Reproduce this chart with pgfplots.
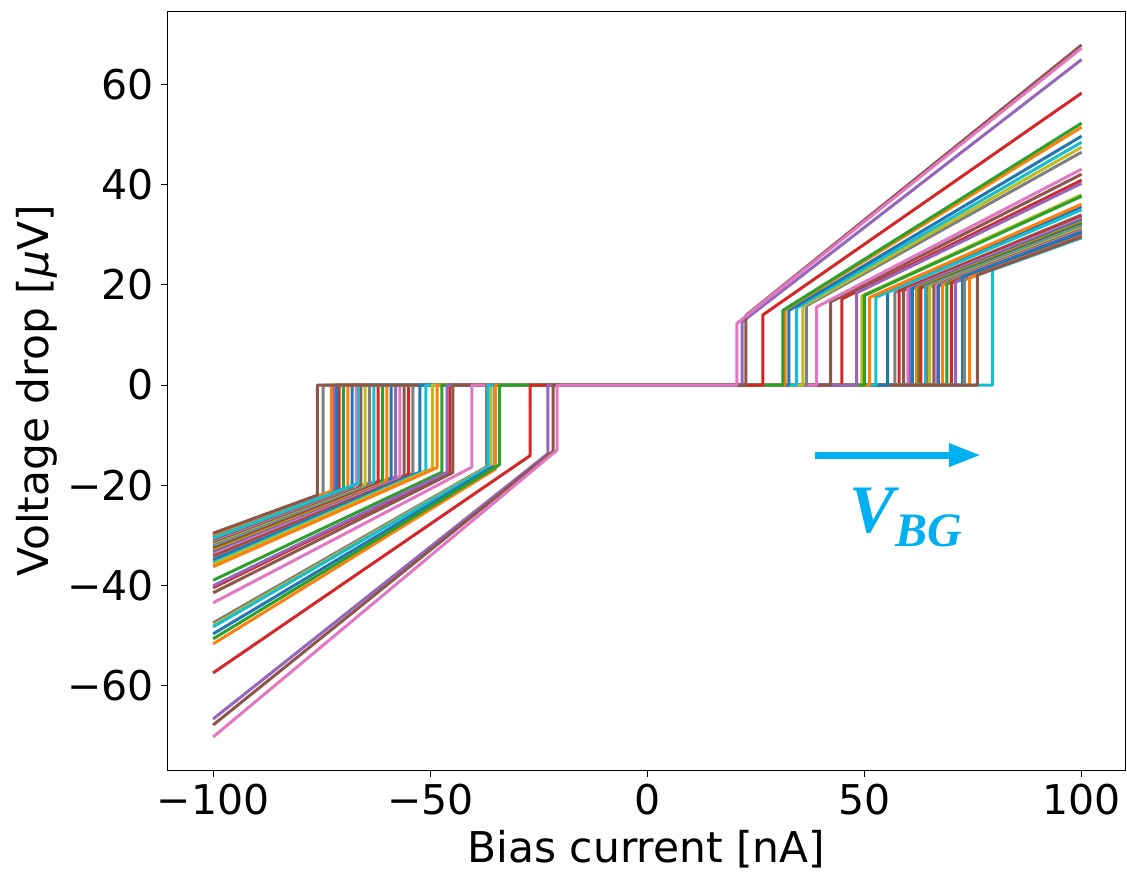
\documentclass[border=0pt]{standalone}
\usepackage{pgfplots}
\pgfplotsset{compat=1.18}
\usepackage{fontspec}
\setmainfont{DejaVu Sans}
\newfontfamily\vbgfont{Liberation Serif}
\definecolor{tb}{HTML}{1F77B4}
\definecolor{to}{HTML}{FF7F0E}
\definecolor{tg}{HTML}{2CA02C}
\definecolor{tr}{HTML}{D62728}
\definecolor{tp}{HTML}{9467BD}
\definecolor{tbr}{HTML}{8C564B}
\definecolor{tpk}{HTML}{E377C2}
\definecolor{tgy}{HTML}{7F7F7F}
\definecolor{tol}{HTML}{BCBD22}
\definecolor{tc}{HTML}{17BECF}
\definecolor{vbg}{HTML}{00B0F0}
\begin{document}
\begin{tikzpicture}
\begin{axis}[
  scale only axis, width=478.5pt, height=379pt,
  xmin=-110.4, xmax=110.0, ymin=-76.9, ymax=74.5,
  xtick={-100,-50,0,50,100},
  xticklabels={−100,−50,0,50,100},
  ytick={-60,-40,-20,0,20,40,60},
  yticklabels={−60,−40,−20,0,20,40,60},
  tick align=outside, major tick length=3.5pt,
  tick style={black, line width=0.5pt},
  axis line style={line width=0.5pt},
  xtick pos=bottom, ytick pos=left,
  ticklabel style={font=\fontsize{20.5}{24}\selectfont},
  label style={font=\fontsize{21.2}{25}\selectfont},
  xlabel={Bias current [nA]},
  ylabel={Voltage drop [{\itshape μ}V]},
  xlabel style={yshift=-0.5pt},
  ylabel style={yshift=-2pt},
  every axis plot/.append style={line width=1.5pt, line join=round},
]
\coordinate (ll) at (rel axis cs:0,0);
\coordinate (ur) at (rel axis cs:1,1);
% bundle (low resistance, high critical current)
\addplot[tgy] coordinates {(-100,-34.5) (-54,-17.7) (-54,0) (57,0) (57,18.5) (100,34.0)};
\addplot[tr] coordinates {(-100,-34.0) (-55,-17.8) (-55,0) (58,0) (58,18.8) (100,33.8)};
\addplot[tbr] coordinates {(-100,-33.8) (-56,-18.1) (-56,0) (59,0) (59,18.9) (100,33.5)};
\addplot[tpk] coordinates {(-100,-33.5) (-57,-18.2) (-57,0) (60,0) (60,19.1) (100,33.2)};
\addplot[tp] coordinates {(-100,-33.2) (-58,-18.4) (-58,0) (60.5,0) (60.5,19.2) (100,33.0)};
\addplot[tb] coordinates {(-100,-33.0) (-59,-18.6) (-59,0) (61,0) (61,19.2) (100,32.8)};
\addplot[to] coordinates {(-100,-32.8) (-60,-18.9) (-60,0) (62,0) (62,19.4) (100,32.5)};
\addplot[tg] coordinates {(-100,-32.5) (-61,-19.0) (-61,0) (62.5,0) (62.5,19.4) (100,32.3)};
\addplot[tr] coordinates {(-100,-32.3) (-62,-19.3) (-62,0) (63,0) (63,19.4) (100,32.0)};
\addplot[tc] coordinates {(-100,-32.0) (-63,-19.4) (-63,0) (64,0) (64,19.6) (100,31.8)};
\addplot[tgy] coordinates {(-100,-31.8) (-64,-19.6) (-64,0) (64.5,0) (64.5,19.6) (100,31.5)};
\addplot[tol] coordinates {(-100,-31.5) (-65,-19.8) (-65,0) (65,0) (65,19.6) (100,31.3)};
\addplot[tbr] coordinates {(-100,-31.3) (-66,-20.0) (-66,0) (66,0) (66,19.8) (100,31.0)};
\addplot[tpk] coordinates {(-100,-31.0) (-67,-20.1) (-67,0) (66.5,0) (66.5,19.8) (100,30.8)};
\addplot[tb] coordinates {(-100,-30.8) (-68,-20.3) (-68,0) (67,0) (67,19.8) (100,30.6)};
\addplot[to] coordinates {(-100,-30.6) (-69,-20.5) (-69,0) (68,0) (68,20.0) (100,30.4)};
\addplot[tg] coordinates {(-100,-30.4) (-70,-20.7) (-70,0) (69,0) (69,20.2) (100,30.2)};
\addplot[tr] coordinates {(-100,-30.2) (-71,-20.9) (-71,0) (70,0) (70,20.4) (100,30.0)};
\addplot[tp] coordinates {(-100,-30.0) (-72,-21.0) (-72,0) (71,0) (71,20.6) (100,29.8)};
\addplot[tb] coordinates {(-100,-30.1) (-71.5,-21.0) (-71.5,0) (72.6,0) (72.6,21.6) (100,30.5)};
\addplot[tgy] coordinates {(-100,-29.8) (-74.7,-21.8) (-74.7,0) (73,0) (73,21.0) (100,29.5)};
\addplot[to] coordinates {(-100,-29.9) (-72.8,-21.2) (-72.8,0) (74.2,0) (74.2,21.5) (100,29.7)};
\addplot[tc] coordinates {(-100,-30.5) (-66.5,-19.6) (-66.5,0) (79.5,0) (79.5,23.0) (100,29.4)};
\addplot[tbr] coordinates {(-100,-29.6) (-76,-22.0) (-76,0) (76,0) (76,22.0) (100,29.6)};
% intermediate group
\addplot[tb] coordinates {(-100,-35.0) (-52.4,-17.4) (-52.4,0) (55.3,0) (55.3,18.8) (100,35.6)};
\addplot[tc] coordinates {(-100,-35.5) (-51,-17.1) (-51,0) (52.6,0) (52.6,17.5) (100,35.0)};
\addplot[tol] coordinates {(-100,-35.8) (-49.5,-16.7) (-49.5,0) (49.4,0) (49.4,17.8) (100,38.0)};
\addplot[to] coordinates {(-100,-36.3) (-48.4,-16.5) (-48.4,0) (51.2,0) (51.2,17.5) (100,36.1)};
\addplot[tg] coordinates {(-100,-39.0) (-47.3,-17.4) (-47.3,0) (50,0) (50,17.9) (100,37.7)};
\addplot[tr] coordinates {(-100,-40.5) (-45.5,-17.3) (-45.5,0) (44.8,0) (44.8,17.2) (100,40.9)};
\addplot[tp] coordinates {(-100,-40.1) (-46.1,-17.4) (-46.1,0) (48.2,0) (48.2,18.4) (100,40.3)};
\addplot[tbr] coordinates {(-100,-41.5) (-44.8,-17.5) (-44.8,0) (42.2,0) (42.2,16.6) (100,42.1)};
\addplot[tpk] coordinates {(-100,-43.5) (-40.4,-16.4) (-40.4,0) (39,0) (39,15.6) (100,43.1)};
\addplot[tgy] coordinates {(-100,-47.5) (-37,-16.3) (-37,0) (36.6,0) (36.6,15.8) (100,46.5)};
\addplot[tol] coordinates {(-100,-48.0) (-36,-16.0) (-36,0) (35.8,0) (35.8,15.7) (100,47.5)};
\addplot[tc] coordinates {(-100,-48.3) (-36.7,-16.5) (-36.7,0) (34.4,0) (34.4,15.4) (100,48.5)};
\addplot[tb] coordinates {(-100,-49.7) (-35.1,-16.1) (-35.1,0) (32.6,0) (32.6,14.9) (100,49.7)};
\addplot[to] coordinates {(-100,-51.7) (-35,-16.8) (-35,0) (31.7,0) (31.7,15.0) (100,51.5)};
\addplot[tg] coordinates {(-100,-50.7) (-34,-15.9) (-34,0) (31.2,0) (31.2,14.9) (100,52.3)};
% high resistance group
\addplot[tr] coordinates {(-100,-57.5) (-27,-14.1) (-27,0) (26.6,0) (26.6,14.0) (100,58.3)};
\addplot[tp] coordinates {(-100,-66.7) (-22.9,-13.7) (-22.9,0) (21.8,0) (21.8,12.6) (100,65.0)};
\addplot[tbr] coordinates {(-100,-67.9) (-21.7,-13.2) (-21.7,0) (22.7,0) (22.7,13.9) (100,67.9)};
\addplot[tpk] coordinates {(-100,-70.3) (-20.8,-13.0) (-20.8,0) (20.6,0) (20.6,12.3) (100,67.3)};
% annotation
\draw[vbg, line width=3.5pt] (axis cs:38.5,-14) -- (axis cs:71,-14);
\fill[vbg] (axis cs:69.5,-11.6) -- (axis cs:76.5,-14) -- (axis cs:69.5,-16.4) -- cycle;
\node[vbg, anchor=base west, inner sep=0pt] at (axis cs:46.5,-29.5)
  {\vbgfont\bfseries\itshape\fontsize{34}{38}\selectfont V\raisebox{-7pt}{\fontsize{24}{28}\selectfont BG}};
\end{axis}
\pgfresetboundingbox
\path ([shift={(-84pt,-51pt)}]ll) rectangle ([shift={(1pt,6pt)}]ur);
\end{tikzpicture}
\end{document}
